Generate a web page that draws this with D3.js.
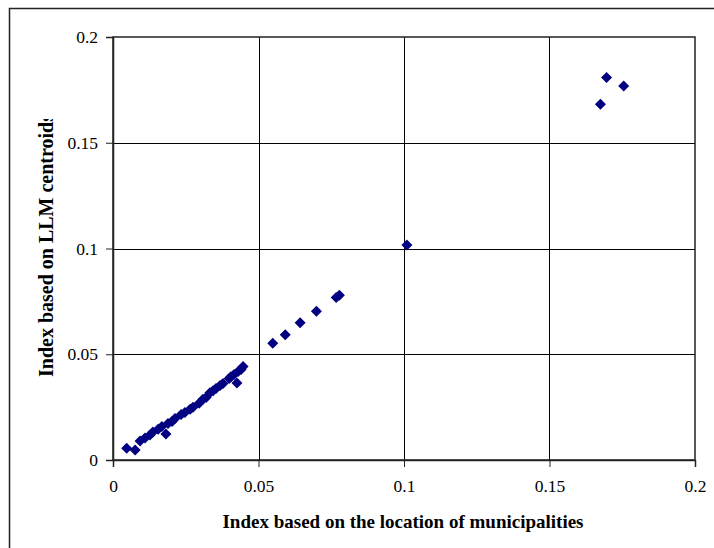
<!DOCTYPE html>
<html>
<head>
<meta charset="utf-8">
<script src="https://cdn.jsdelivr.net/npm/d3@7"></script>
<style>
  html, body { margin: 0; padding: 0; background: #fff; }
  svg { display: block; }
</style>
</head>
<body>
<svg id="chart" width="714" height="548"></svg>
<script>
// Index computed from municipality locations (x) vs. from LLM centroids (y)
const xValues = [
  0.0047, 0.0076, 0.0093, 0.0110, 0.0127, 0.0137, 0.0155, 0.0168, 0.0182, 0.0189,
  0.0203, 0.0213, 0.0234, 0.0247, 0.0265, 0.0275, 0.0296, 0.0309, 0.0320, 0.0333,
  0.0344, 0.0354, 0.0368, 0.0378, 0.0399, 0.0405, 0.0416, 0.0426, 0.0430, 0.0440,
  0.0447, 0.0549, 0.0592, 0.0643, 0.0699, 0.0767, 0.0778, 0.1010, 0.1675, 0.1696,
  0.1755
];
const yValues = [
  0.0056, 0.0047, 0.0090, 0.0104, 0.0118, 0.0132, 0.0145, 0.0158, 0.0123, 0.0172,
  0.0182, 0.0196, 0.0215, 0.0225, 0.0240, 0.0250, 0.0268, 0.0287, 0.0296, 0.0318,
  0.0328, 0.0338, 0.0352, 0.0362, 0.0385, 0.0394, 0.0404, 0.0364, 0.0418, 0.0428,
  0.0442, 0.0552, 0.0592, 0.0649, 0.0703, 0.0768, 0.0779, 0.1016, 0.1682, 0.1808,
  0.1768
];
const xTicks = [0, 0.05, 0.1, 0.15, 0.2];
const yTicks = [0, 0.05, 0.1, 0.15, 0.2];
const xTitle = "Index based on the location of municipalities";
const yTitle = "Index based on LLM centroids";

const points = xValues.map((x, i) => ({ x, y: yValues[i] }));

const svg = d3.select("#chart");
const font = "'Liberation Serif', 'Times New Roman', serif";

const plotL = 113, plotR = 695, plotT = 37, plotB = 460;
const x = d3.scaleLinear().domain([0, 0.2]).range([plotL, plotR]);
const y = d3.scaleLinear().domain([0, 0.2]).range([plotB, plotT]);

// outer chart frame
svg.append("rect")
  .attr("x", 9.5).attr("y", 8.5)
  .attr("width", 720).attr("height", 560)
  .attr("fill", "none").attr("stroke", "#222").attr("stroke-width", 1.5);

// gridlines
const grid = svg.append("g").attr("stroke", "#000").attr("stroke-width", 1);
grid.selectAll("line.v").data(xTicks.slice(1, -1)).join("line")
  .attr("x1", d => Math.round(x(d)) + 0.5).attr("x2", d => Math.round(x(d)) + 0.5)
  .attr("y1", plotT).attr("y2", plotB);
grid.selectAll("line.h").data(yTicks.slice(1, -1)).join("line")
  .attr("y1", d => Math.round(y(d)) + 0.5).attr("y2", d => Math.round(y(d)) + 0.5)
  .attr("x1", plotL).attr("x2", plotR);

// plot area border
svg.append("rect")
  .attr("x", plotL).attr("y", plotT)
  .attr("width", plotR - plotL).attr("height", plotB - plotT)
  .attr("fill", "none").attr("stroke", "#222").attr("stroke-width", 1.5);

// axes
const xAxis = d3.axisBottom(x).tickValues(xTicks).tickSize(7).tickPadding(13)
  .tickFormat(d => d3.format("")(d));
const yAxis = d3.axisLeft(y).tickValues(yTicks).tickSize(7).tickPadding(8)
  .tickFormat(d => d3.format("")(d));

const gx = svg.append("g").attr("transform", `translate(0,${plotB})`).call(xAxis);
const gy = svg.append("g").attr("transform", `translate(${plotL},0)`).call(yAxis);
[gx, gy].forEach(g => {
  g.select(".domain").attr("stroke", "#222").attr("stroke-width", 1.5);
  g.selectAll(".tick line").attr("stroke", "#222");
  g.selectAll(".tick text")
    .attr("font-family", font).attr("font-size", 17.5).attr("fill", "#000");
});

// diamond markers
const diamond = "M0,-5.5L5.5,0L0,5.5L-5.5,0Z";
svg.append("g").selectAll("path").data(points).join("path")
  .attr("d", diamond)
  .attr("transform", d => `translate(${x(d.x)},${y(d.y)})`)
  .attr("fill", "#000080");

// axis titles
svg.append("text")
  .attr("x", 403).attr("y", 528)
  .attr("text-anchor", "middle")
  .attr("font-family", font).attr("font-size", 19).attr("font-weight", "bold")
  .text(xTitle);

// y title runs past the top of its box and is cut off there
svg.append("clipPath").attr("id", "ytitle-clip")
  .append("rect").attr("x", 0).attr("y", 119).attr("width", 100).attr("height", 400);
svg.append("g").attr("clip-path", "url(#ytitle-clip)")
  .append("text")
  .attr("transform", "translate(53,377) rotate(-90)")
  .attr("text-anchor", "start")
  .attr("font-family", font).attr("font-size", 20).attr("font-weight", "bold")
  .text(yTitle);
</script>
</body>
</html>
